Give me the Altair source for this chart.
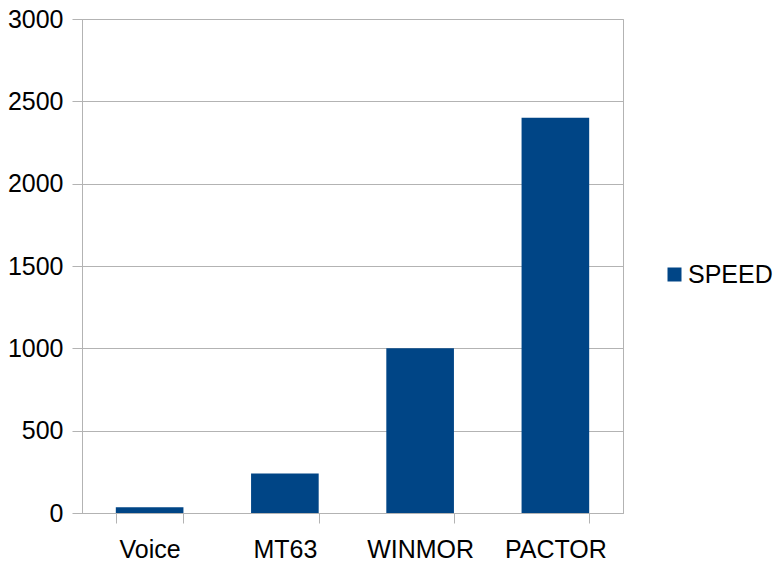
import altair as alt
import pandas as pd

categories = ["Voice", "MT63", "WINMOR", "PACTOR"]
speed = [35, 240, 1000, 2400]
series = ["SPEED"] * 4

df = pd.DataFrame({"mode": categories, "value": speed, "series": series})

FONT = "Liberation Sans"
GRID = "#b3b3b3"

chart = alt.Chart(df).mark_bar(color="#004586").encode(
    x=alt.X("mode:N", sort=categories, title=None,
            scale=alt.Scale(paddingInner=0.5, paddingOuter=0.25),
            axis=alt.Axis(labelAngle=0, tickBand="extent", ticks=True, tickSize=10,
                          labelPadding=14, labelFontSize=25, labelFont=FONT,
                          labelColor="black", domainColor=GRID, tickColor=GRID,
                          grid=False)),
    y=alt.Y("value:Q", title=None,
            scale=alt.Scale(domain=[0, 3000], nice=False),
            axis=alt.Axis(values=[0, 500, 1000, 1500, 2000, 2500, 3000],
                          format="d", ticks=True,
                          tickSize=10, labelPadding=9, labelFontSize=25,
                          labelFont=FONT, labelColor="black",
                          domainColor=GRID, tickColor=GRID, gridColor=GRID)),
    color=alt.Color("series:N", scale=alt.Scale(range=["#004586"]),
                    legend=alt.Legend(title=None, orient="none", legendX=580, legendY=243,
                                      symbolType="square", symbolSize=196,
                                      symbolStrokeWidth=0,
                                      labelFontSize=25, labelFont=FONT,
                                      labelColor="black", labelOffset=1)),
).properties(
    width=541, height=494,
    autosize=alt.AutoSizeParams(type="none"),
    padding={"left": 82, "top": 19, "right": 158, "bottom": 49},
).configure(
    background="white",
).configure_view(stroke=GRID, strokeWidth=1)

chart.save("out.html", embed_options={"renderer": "svg", "actions": False})
